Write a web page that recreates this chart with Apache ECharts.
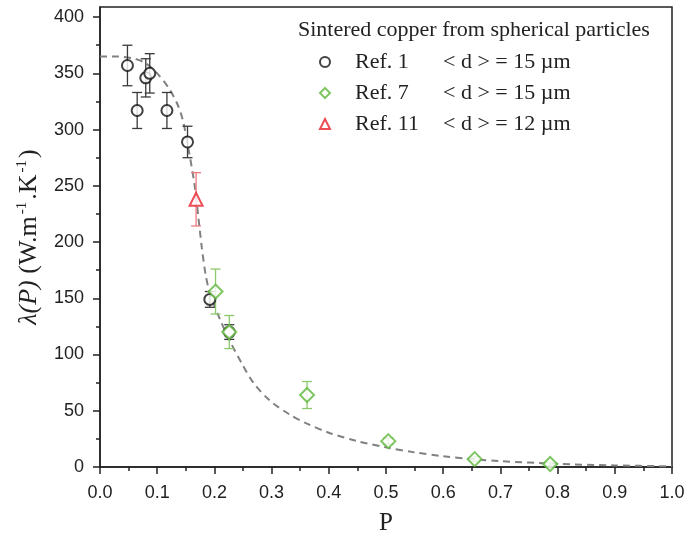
<!DOCTYPE html>
<html>
<head>
<meta charset="utf-8">
<script src="https://cdn.jsdelivr.net/npm/echarts@6/dist/echarts.min.js"></script>
<style>
  html, body { margin: 0; padding: 0; background: #fff; }
  #chart { width: 688px; height: 535px; }
</style>
</head>
<body>
<div id="chart"></div>
<script>
// Ref. 1 (black circles)
var ref1P   = [0.048, 0.065, 0.080, 0.087, 0.117, 0.153, 0.192, 0.226];
var ref1Val = [357, 317, 346, 350, 317, 289, 149, 120];
var ref1Err = [18, 16, 17, 17.5, 16, 14, 7, 6.5];

// Ref. 7 (green diamonds)
var ref7P   = [0.202, 0.226, 0.362, 0.504, 0.655, 0.787];
var ref7Val = [156, 120, 64, 23, 7, 2.7];
var ref7Err = [20, 14.7, 12, 3, 2, 1.5];

// Ref. 11 (red triangle)
var ref11P   = [0.168];
var ref11Val = [238];
var ref11Err = [23.7];

// dashed model curve
var fitP   = [0, 0.03, 0.06, 0.08, 0.10, 0.12, 0.135, 0.145, 0.155, 0.165, 0.172, 0.178, 0.185, 0.193, 0.21, 0.227, 0.248, 0.268, 0.297, 0.332, 0.36, 0.40, 0.45, 0.50, 0.55, 0.60, 0.65, 0.70, 0.80, 0.90, 1.0];
var fitVal = [365, 365, 363, 359, 350, 337, 323, 308, 282, 252, 222, 195, 170, 153, 131, 112, 92, 75, 59, 46.5, 39, 30.5, 23, 17.5, 13, 9.6, 7, 5.2, 2.8, 1.4, 0.6];

var legendNames = ['Ref. 1', 'Ref. 7', 'Ref. 11'];
var legendSizes = ['15', '15', '12'];

var yTicks = [0, 50, 100, 150, 200, 250, 300, 350, 400];

function pairs(xs, ys) {
  return xs.map(function (x, i) { return [x, ys[i]]; });
}
function errData(xs, ys, es) {
  return xs.map(function (x, i) { return [x, ys[i] - es[i], ys[i] + es[i]]; });
}
function errSeries(data, color) {
  return {
    type: 'custom',
    z: 2,
    silent: true,
    data: data,
    renderItem: function (params, api) {
      var top = api.coord([api.value(0), api.value(2)]);
      var bot = api.coord([api.value(0), api.value(1)]);
      var hw = 5;
      var st = { stroke: color, lineWidth: 1.3 };
      return {
        type: 'group',
        children: [
          { type: 'line', shape: { x1: top[0], y1: top[1], x2: bot[0], y2: bot[1] }, style: st },
          { type: 'line', shape: { x1: top[0] - hw, y1: top[1], x2: top[0] + hw, y2: top[1] }, style: st },
          { type: 'line', shape: { x1: bot[0] - hw, y1: bot[1], x2: bot[0] + hw, y2: bot[1] }, style: st }
        ]
      };
    }
  };
}

var sansFont = '"Liberation Sans", Arial, sans-serif';
var serifFont = '"Liberation Serif", "Times New Roman", serif';

var myChart = echarts.init(document.getElementById('chart'));
var option = {
  animation: false,
  title: {
    text: 'Sintered copper from spherical particles',
    left: 298,
    top: 19,
    padding: 0,
    textStyle: { fontFamily: serifFont, fontSize: 22, fontWeight: 'normal', color: '#222' }
  },
  legend: {
    data: legendNames,
    orient: 'vertical',
    left: 319,
    top: 51,
    padding: 0,
    itemWidth: 10,
    itemHeight: 10,
    itemGap: 9,
    selectedMode: false,
    formatter: function (name) {
      var i = legendNames.indexOf(name);
      return '{s|}{a|' + name + '}{b|< d > = ' + legendSizes[i] + ' \u00b5m}';
    },
    textStyle: {
      fontFamily: serifFont,
      fontSize: 22,
      color: '#222',
      rich: {
        s: { width: 20 },
        a: { width: 88, fontFamily: serifFont, fontSize: 22, color: '#222' },
        b: { fontFamily: serifFont, fontSize: 22, color: '#222' }
      }
    }
  },
  grid: {
    left: 100,
    right: 16,
    top: 7,
    bottom: 68,
    show: true,
    borderColor: '#222',
    borderWidth: 1.5,
    containLabel: false,
    outerBoundsMode: 'none'
  },
  xAxis: {
    type: 'value',
    min: 0,
    max: 1,
    interval: 0.1,
    name: 'P',
    nameLocation: 'middle',
    nameGap: 44,
    nameTextStyle: { fontFamily: serifFont, fontSize: 25, color: '#222' },
    axisLine: { show: true, lineStyle: { color: '#222', width: 1.5 } },
    axisTick: { show: true, inside: false, length: 7, lineStyle: { color: '#222', width: 1.5 } },
    minorTick: { show: true, splitNumber: 2, length: 4, lineStyle: { color: '#222', width: 1.5 } },
    splitLine: { show: false },
    axisLabel: {
      margin: 17,
      fontFamily: sansFont,
      fontSize: 18,
      color: '#222',
      formatter: function (v) { return v.toFixed(1); }
    }
  },
  yAxis: {
    type: 'value',
    min: 0,
    max: 409,
    interval: 50,
    name: '{i|\u03bb(P)} {n|(W.m}{s|-1}{n|.K}{s|-1}{n|)}',
    nameLocation: 'middle',
    nameRotate: 90,
    nameGap: 56,
    nameTextStyle: {
      fontFamily: serifFont,
      fontSize: 26,
      color: '#222',
      rich: {
        i: { fontFamily: serifFont, fontStyle: 'italic', fontSize: 26, color: '#222', lineHeight: 29 },
        n: { fontFamily: serifFont, fontSize: 26, color: '#222', lineHeight: 29 },
        s: { fontFamily: serifFont, fontSize: 15, color: '#222', lineHeight: 15, verticalAlign: 'top', padding: [0, 2, 0, 2] }
      }
    },
    axisLine: { show: true, lineStyle: { color: '#222', width: 1.5 } },
    axisTick: { show: true, inside: false, length: 7, customValues: yTicks, lineStyle: { color: '#222', width: 1.5 } },
    minorTick: { show: true, splitNumber: 2, length: 4, lineStyle: { color: '#222', width: 1.5 } },
    splitLine: { show: false },
    axisLabel: {
      margin: 16,
      fontFamily: sansFont,
      fontSize: 18,
      color: '#222',
      customValues: yTicks
    }
  },
  series: [
    {
      name: 'fit',
      type: 'line',
      data: pairs(fitP, fitVal),
      smooth: 0.3,
      showSymbol: false,
      symbol: 'none',
      z: 1,
      silent: true,
      lineStyle: { color: '#808080', width: 2, type: [7, 5] }
    },
    errSeries(errData(ref1P, ref1Val, ref1Err), '#3a3a3a'),
    errSeries(errData(ref7P, ref7Val, ref7Err), '#8cc96c'),
    errSeries(errData(ref11P, ref11Val, ref11Err), '#f07a80'),
    {
      name: 'Ref. 1',
      type: 'scatter',
      z: 3,
      symbol: 'circle',
      symbolSize: 11,
      data: pairs(ref1P, ref1Val),
      itemStyle: { color: '#fff', borderColor: '#111', borderWidth: 2 }
    },
    {
      name: 'Ref. 7',
      type: 'scatter',
      z: 4,
      symbol: 'diamond',
      symbolSize: 14,
      data: pairs(ref7P, ref7Val),
      itemStyle: { color: '#fff', borderColor: '#5fb83c', borderWidth: 2 }
    },
    {
      name: 'Ref. 11',
      type: 'scatter',
      z: 4,
      symbol: 'triangle',
      symbolSize: 13,
      data: pairs(ref11P, ref11Val),
      itemStyle: { color: '#fff', borderColor: '#e8202a', borderWidth: 2 }
    }
  ]
};
myChart.setOption(option);
</script>
</body>
</html>
